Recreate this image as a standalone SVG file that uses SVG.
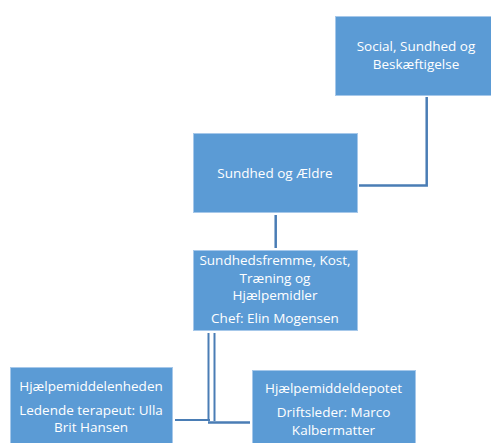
<svg xmlns="http://www.w3.org/2000/svg" width="491" height="443" viewBox="0 0 491 443">
<style>
.box{fill:#5b9bd5;stroke:#a6c8ea;stroke-width:1}
.t{font-family:"Open Sans","Liberation Sans",sans-serif;font-size:13.5px;fill:#ffffff;text-anchor:middle}
.c{fill:none;stroke:#4a7db5;stroke-width:2.5}
.d{fill:none;stroke:#4a7db5;stroke-width:2}
</style>
<rect width="491" height="443" fill="#ffffff"/>
<g id="connectors">
<polyline class="c" points="426.7,97 426.7,185.5 359,185.5"/>
<line class="c" x1="275.7" y1="215" x2="275.7" y2="248"/>
<line class="d" x1="208.5" y1="333" x2="208.5" y2="421"/>
<line class="d" x1="214.5" y1="333" x2="214.5" y2="421"/>
<line class="d" x1="175" y1="420" x2="210" y2="420"/>
<line class="c" x1="208" y1="422.5" x2="250" y2="422.5"/>
</g>
<g id="social">
<rect class="box" x="335.5" y="16.5" width="160" height="79"/>
<text class="t" x="416" y="51">Social, Sundhed og</text>
<text class="t" x="416" y="69">Beskæftigelse</text>
</g>
<g id="sundhed">
<rect class="box" x="193.5" y="133.5" width="164" height="79"/>
<text class="t" x="275" y="178">Sundhed og Ældre</text>
</g>
<g id="fremme">
<rect class="box" x="193.5" y="250.5" width="164" height="80"/>
<text class="t" x="275" y="265">Sundhedsfremme, Kost,</text>
<text class="t" x="275" y="283">Træning og</text>
<text class="t" x="275" y="300">Hjælpemidler</text>
<text class="t" x="275" y="323">Chef: Elin Mogensen</text>
</g>
<g id="enheden">
<rect class="box" x="10.5" y="367.5" width="162" height="80"/>
<text class="t" x="91" y="391">Hjælpemiddelenheden</text>
<text class="t" x="91" y="415">Ledende terapeut: Ulla</text>
<text class="t" x="91" y="432">Brit Hansen</text>
</g>
<g id="depotet">
<rect class="box" x="252.5" y="370.5" width="163" height="80"/>
<text class="t" x="333.5" y="393">Hjælpemiddeldepotet</text>
<text class="t" x="333.5" y="417">Driftsleder: Marco</text>
<text class="t" x="333.5" y="435">Kalbermatter</text>
</g>
</svg>
